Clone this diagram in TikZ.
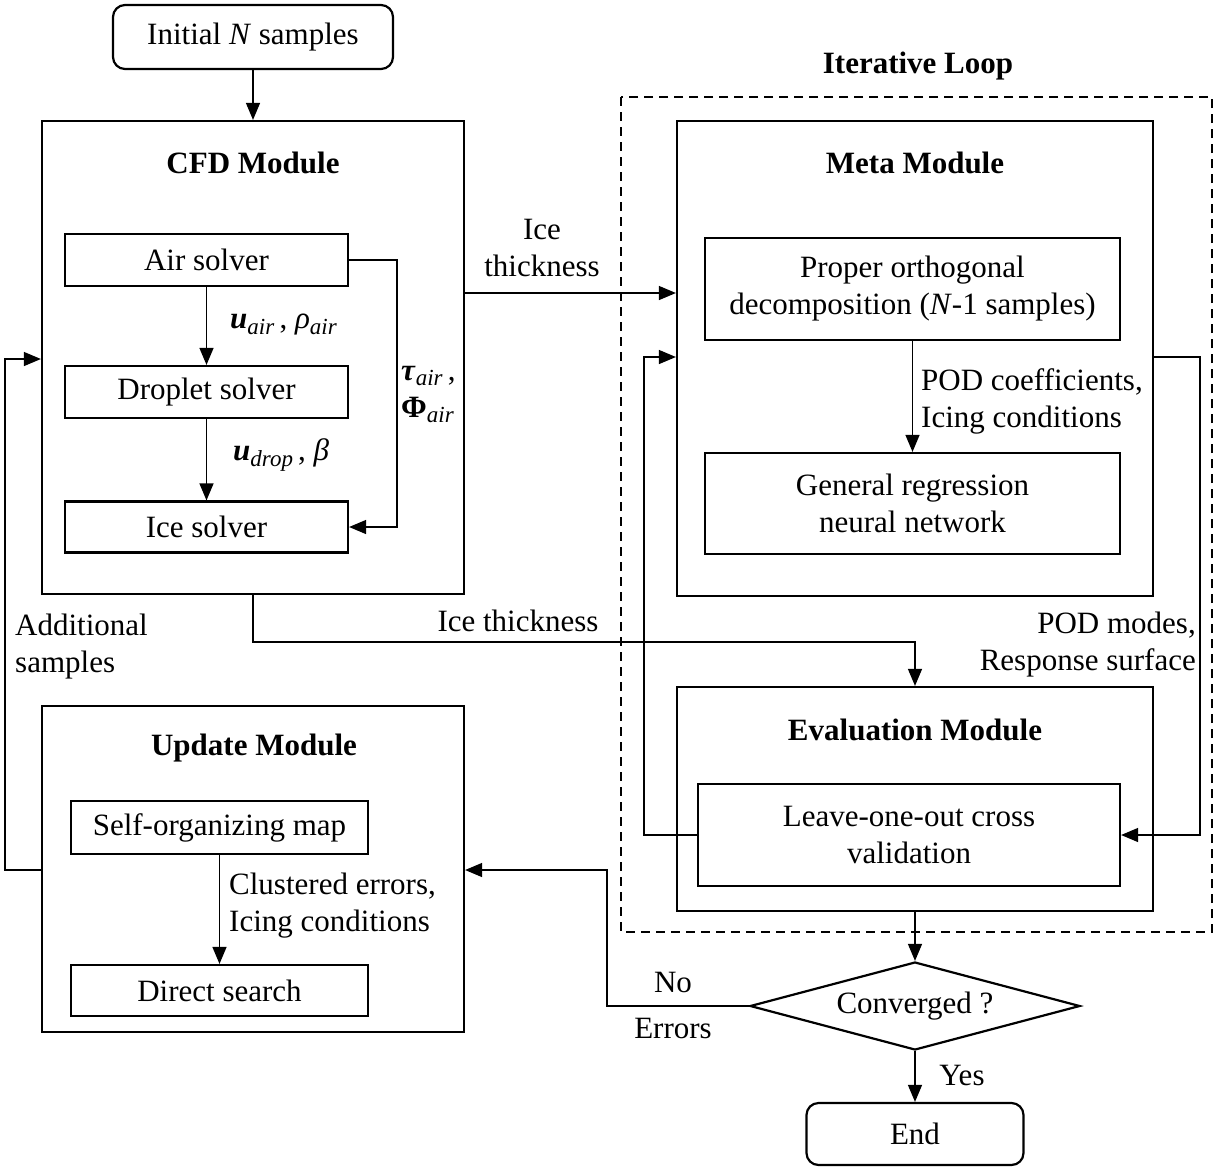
\documentclass[tikz,border=0pt]{standalone}
\usepackage{fontspec}
\setmainfont{Liberation Serif}
\usetikzlibrary{arrows.meta,shapes.geometric}
\newcommand{\lowsub}[1]{\raisebox{-0.4ex}{\fontsize{23}{23}\selectfont\textit{#1}}}
\newcommand{\bigfont}{\fontsize{31}{37}\selectfont}
\tikzset{
  box/.style={draw, line width=2.2pt, inner sep=0pt, align=center},
  modbox/.style={draw, line width=2.2pt, inner sep=0pt},
  rbox/.style={draw, line width=2.2pt, inner sep=0pt, rounded corners=12pt, align=center},
  arr/.style={line width=1.3pt, -{Triangle[length=17pt,width=14pt]}},
  lbl/.style={inner sep=0pt, align=left},
  ttl/.style={inner sep=0pt, font=\bigfont\bfseries}
}
\begin{document}
\begin{tikzpicture}[x=1pt,y=-1pt, font=\bigfont]
\useasboundingbox (0,0) rectangle (1215,1168);

% dashed loop frame
\draw[line width=2pt, dash pattern=on 9pt off 6pt] (621,97) rectangle (1212,932);
\node[ttl] (looptitle) at (918,66) {Iterative Loop};

% top
\node[rbox, minimum width=280pt, minimum height=64pt] (init) at (253,37) {Initial \textit{N} samples};

% CFD module
\node[modbox, minimum width=422pt, minimum height=473pt] (cfd) at (253,357.5) {};
\node[ttl] (cfdT) at (253,163) {CFD Module};
\node[box, minimum width=283pt, minimum height=52pt] (air) at (206.5,260) {Air solver};
\node[box, minimum width=283pt, minimum height=52pt] (drop) at (206.5,392) {Droplet solver};
\node[box, minimum width=283pt, minimum height=51pt] (ice) at (206.5,527) {Ice solver};

% Meta module
\node[modbox, minimum width=476pt, minimum height=475pt] (meta) at (915,358.5) {};
\node[ttl] (metaT) at (915,163) {Meta Module};
\node[box, minimum width=415pt, minimum height=102pt] (pod) at (912.5,289) {Proper orthogonal\\decomposition (\textit{N}-1 samples)};
\node[box, minimum width=415pt, minimum height=101pt] (grnn) at (912.5,503.5) {General regression\\neural network};

% Evaluation module
\node[modbox, minimum width=476pt, minimum height=224pt] (eval) at (915,799) {};
\node[ttl] (evalT) at (915,730) {Evaluation Module};
\node[box, minimum width=422pt, minimum height=102pt] (loocv) at (909,835) {Leave-one-out cross\\validation};

% Update module
\node[modbox, minimum width=422pt, minimum height=326pt] (upd) at (253,869) {};
\node[ttl] (updT) at (254,748) {Update Module};
\node[box, minimum width=297pt, minimum height=53pt] (som) at (219.5,827.5) {Self-organizing map};
\node[box, minimum width=297pt, minimum height=51pt] (ds) at (219.5,990.5) {Direct search};

% decision and end
\node[diamond, aspect=3.75, draw, line width=2.2pt, inner sep=0pt, minimum width=330pt, minimum height=88pt] (conv) at (915,1006) {Converged ?};
\node[rbox, minimum width=217pt, minimum height=62pt] (end) at (915,1134) {End};

% helper coordinates
\coordinate (y293) at (0,293);
\coordinate (y642) at (0,642);
\coordinate (y357) at (0,357);
\coordinate (y359) at (0,359);
\coordinate (y870) at (0,870);
\coordinate (rt) at (1200,357);
\coordinate (lt) at (5,359);
\coordinate (ml) at (644,835);
\coordinate (nl) at (607,1006);

% connectors
\draw[arr] (init.south) -- (cfd.north);
\draw[arr] (air.south) -- (drop.north);
\draw[arr] (drop.south) -- (ice.north);
\draw[arr] (air.east) -- ++(48,0) |- (ice.east);
\draw[arr] (cfd.east |- y293) -- (meta.west |- y293);
\draw[arr] (cfd.south) -- (cfd.south |- y642) -| (eval.north);
\draw[arr] (pod.south) -- (grnn.north);
\draw[arr] (loocv.west) -- (ml) |- (meta.west |- y357);
\draw[arr] (meta.east |- rt) -- (rt) |- (loocv.east);
\draw[arr] (eval.south) -- (conv.north);
\draw[arr] (conv.south) -- (end.north);
\draw[arr] (conv.west) -- (nl) |- (upd.east |- y870);
\draw[arr] (upd.west |- y870) -| (lt) -- (cfd.west |- y359);
\draw[arr] (som.south) -- (ds.north);

% labels
\node[lbl, anchor=west] (lua) at (230,325) {\textbf{\textit{u}}\lowsub{air}\,, \textit{ρ}\lowsub{air}};
\node[lbl, anchor=west] (lud) at (233,455) {\textbf{\textit{u}}\lowsub{drop}\,, \textit{β}};
\node[lbl, anchor=west] (ltau) at (401,376) {\textbf{\textit{τ}}\lowsub{air}\,,};
\node[lbl, anchor=west] (lphi) at (401,410) {\textbf{Φ}\lowsub{air}};
\node[lbl, align=center] (lice1) at (542,248) {Ice\\thickness};
\node[lbl] (lice2) at (518,621) {Ice thickness};
\node[lbl, anchor=west] (lpodc) at (921,401) {POD coefficients,\\Icing conditions};
\node[lbl, anchor=east, align=right] (lpodm) at (1196,645) {POD modes,\\Response surface};
\node[lbl, anchor=west] (ladd) at (15,647) {Additional\\samples};
\node[lbl, anchor=west] (lclu) at (229,906) {Clustered errors,\\Icing conditions};
\node[lbl] (lno) at (673,982) {No};
\node[lbl] (lerr) at (673,1028) {Errors};
\node[lbl] (lyes) at (962,1075) {Yes};
\end{tikzpicture}
\end{document}
